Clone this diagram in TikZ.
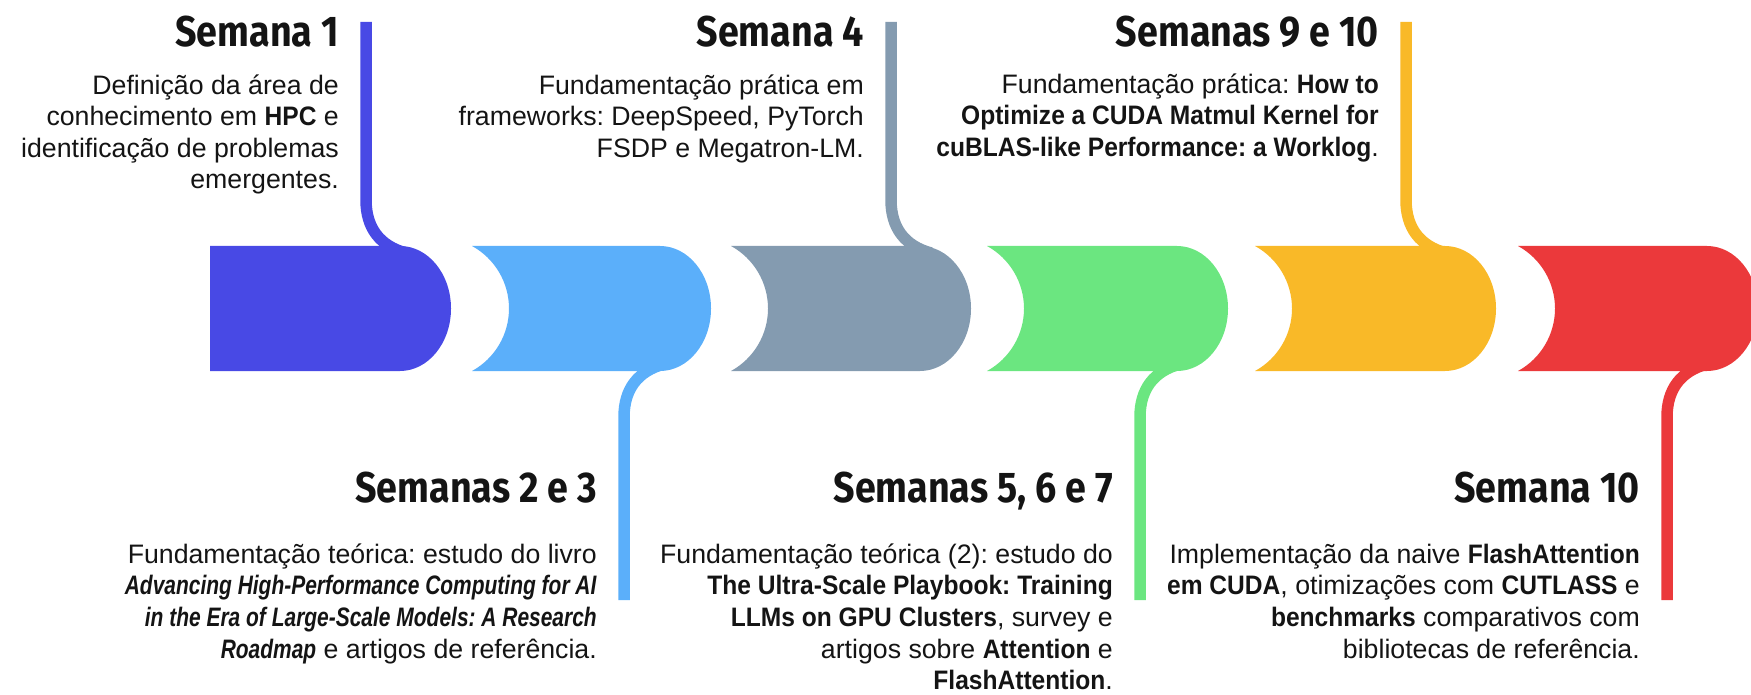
\documentclass[tikz,border=0pt]{standalone}
\usepackage{fontspec}
\setmainfont{Liberation Sans}[BoldFeatures={FakeStretch=0.92},
  BoldItalicFeatures={FakeStretch=0.785}]
\newfontfamily\titlefont[FakeStretch=0.875]{Fira Sans}

\definecolor{indigo}{RGB}{72,73,229}
\definecolor{sky}{RGB}{91,175,250}
\definecolor{slate}{RGB}{132,155,176}
\definecolor{mint}{RGB}{107,230,128}
\definecolor{amber}{RGB}{249,185,40}
\definecolor{coral}{RGB}{235,57,59}
\definecolor{ink}{RGB}{20,20,20}

% band piece with a concave left end and a rounded right end
% #1 left x, #2 rightmost x, #3 colour
\newcommand\bandpiece[3]{%
  \fill[#3] (#1,246) -- (#2-51,246)
    .. controls (#2-22.8,246) and (#2,274) .. (#2,308.5)
    .. controls (#2,343) and (#2-22.8,371) .. (#2-51,371)
    -- (#1,371)
    .. controls (#1+22.8,358.5) and (#1+37,334.5) .. (#1+37,308.5)
    .. controls (#1+37,282.5) and (#1+22.8,258.5) .. (#1,246) -- cycle;}

% stem rising from the top of a piece: #1 name, #2 x, #3 colour
\newcommand\stemup[3]{%
  \coordinate (#1-end) at (#2,22);
  \coordinate (#1-root) at (#2+40,253);
  \draw[stem,#3] (#1-end) -- (#2,200)
    .. controls (#2,228) and (#2+14,246) .. (#1-root);}

% stem hanging from the bottom of a piece: #1 name, #2 x, #3 colour
\newcommand\stemdown[3]{%
  \coordinate (#1-root) at (#2+40,364);
  \coordinate (#1-end) at (#2,600);
  \draw[stem,#3] (#1-root)
    .. controls (#2+14,371) and (#2,389) .. (#2,417) -- (#1-end);}

\newcommand\lineone{\rule{0pt}{25pt}}

\begin{document}
\begin{tikzpicture}[x=1pt,y=-1pt,
  stem/.style={line width=11.5pt},
  title/.style={font=\titlefont\bfseries\fontsize{43}{50}\selectfont,
    text=ink, inner sep=0pt, anchor=base east},
  body/.style={font=\fontsize{26.7}{31.6}\selectfont\frenchspacing, text=ink,
    inner sep=0pt, align=right, anchor=north east}]
\path[use as bounding box, clip] (0,0) rectangle (1751,695);

% timeline band
\fill[indigo] (210,246) -- (400,246)
  .. controls (428.2,246) and (451,274) .. (451,308.5)
  .. controls (451,343) and (428.2,371) .. (400,371)
  -- (210,371) -- cycle;
\bandpiece{472}{711}{sky}
\bandpiece{731}{971}{slate}
\bandpiece{987}{1228}{mint}
\bandpiece{1255}{1496}{amber}
\bandpiece{1518}{1758}{coral}

% stems
\stemup{s1}{366}{indigo}
\stemdown{s2}{624}{sky}
\stemup{s3}{891}{slate}
\stemdown{s4}{1140}{mint}
\stemup{s5}{1406}{amber}
\stemdown{s6}{1667}{coral}

% week 1
\node[title] (t1) at (339,47) {Semana 1};
\node[body] (b1) at (339,69) {\lineone Definição da área de\\
  conhecimento em \textbf{HPC} e\\
  identificação de problemas\\
  emergentes.};

% weeks 2 and 3
\node[title] (t2) at (597,502) {Semanas 2 e 3};
\node[body] (b2) at (597,538) {\lineone Fundamentação teórica: estudo do livro\\
  \textbf{\textit{Advancing High-Performance Computing for AI}}\\
  \textbf{\textit{in the Era of Large-Scale Models: A Research}}\\
  \textbf{\textit{Roadmap}} e artigos de referência.};

% week 4
\node[title] (t3) at (864,47) {Semana 4};
\node[body] (b3) at (864,69) {\lineone Fundamentação prática em\\
  frameworks: DeepSpeed, PyTorch\\
  FSDP e Megatron-LM.};

% weeks 5, 6 and 7
\node[title] (t4) at (1113,502) {Semanas 5, 6 e 7};
\node[body] (b4) at (1113,538) {\lineone Fundamentação teórica (2): estudo do\\
  \textbf{The Ultra-Scale Playbook: Training}\\
  \textbf{LLMs on GPU Clusters}, survey e\\
  artigos sobre \textbf{Attention} e\\
  \textbf{FlashAttention}.};

% weeks 9 and 10
\node[title] (t5) at (1379,47) {Semanas 9 e 10};
\node[body] (b5) at (1379,68) {\lineone Fundamentação prática: \textbf{How to}\\
  \textbf{Optimize a CUDA Matmul Kernel for}\\
  \textbf{cuBLAS-like Performance: a Worklog}.};

% week 10
\node[title] (t6) at (1640,502) {Semana 10};
\node[body] (b6) at (1640,538) {\lineone Implementação da naive \textbf{FlashAttention}\\
  \textbf{em CUDA}, otimizações com \textbf{CUTLASS} e\\
  \textbf{benchmarks} comparativos com\\
  bibliotecas de referência.};
\end{tikzpicture}
\end{document}
